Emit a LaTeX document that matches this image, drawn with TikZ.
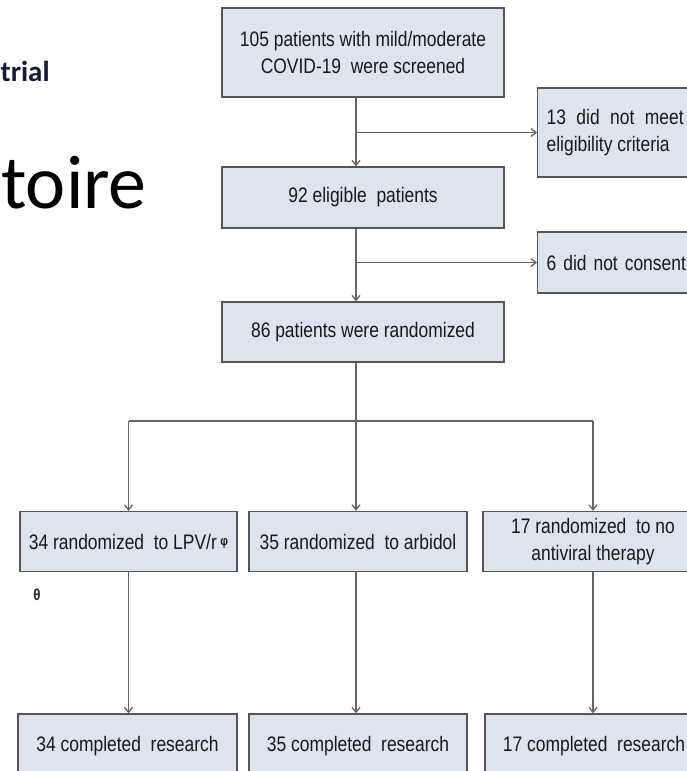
\documentclass[tikz,border=0pt]{standalone}
\usepackage{fontspec}
\usetikzlibrary{arrows.meta}
\newfontfamily\chartfont[FakeStretch=0.83]{Liberation Sans}
\newfontfamily\slidefont{Carlito}
\definecolor{boxfill}{RGB}{220,228,239}
\definecolor{boxline}{RGB}{85,85,85}
\definecolor{linkline}{RGB}{100,100,100}
\definecolor{titlenavy}{RGB}{25,25,60}
\tikzset{
  box/.style={draw=boxline, fill=boxfill, line width=1.3pt, inner sep=0pt,
    align=center, text=black!90, font=\chartfont\fontsize{21}{27}\selectfont},
  link/.style={draw=linkline, line width=1.3pt},
  arr/.style={link, -{Straight Barb[length=5pt,width=8pt]}}
}

\begin{document}
\begin{tikzpicture}[x=1pt,y=-1pt]
\useasboundingbox (0,0) rectangle (687,771);
\clip (0,0) rectangle (687,771);

% bits of the slide behind the chart
\node[anchor=base west, inner sep=0pt, text=titlenavy,
  font=\slidefont\bfseries\fontsize{29}{31}\selectfont] (trial) at (0.5,81) {trial};
\node[anchor=base west, inner sep=0pt,
  font=\slidefont\fontsize{76}{80}\selectfont] (toire) at (1,208) {toire};

\coordinate (trk) at (356,0);
\coordinate (split) at (356,421);

\node[box, minimum width=282pt, minimum height=89pt] (screen) at (363,52.5)
  {105 patients with mild/moderate\\COVID-19\ \ were screened};
\node[box, minimum width=282pt, minimum height=61pt] (eligible) at (363,197.5)
  {92 eligible\ \ patients};
\node[box, minimum width=282pt, minimum height=60pt] (randomized) at (363,332)
  {86 patients were randomized};

\node[box, anchor=west, minimum width=155pt, minimum height=89pt,
  text width=137pt, align=justify] (notmeet) at (537,132.5)
  {13 did not meet\linebreak eligibility criteria};
\node[box, anchor=west, minimum width=155pt, minimum height=61pt,
  text width=137pt, align=left] (noconsent) at (537,262.5)
  {\mbox{6 did not consent}};

\node[box, minimum width=217pt, minimum height=60pt] (lpv) at (128.5,541.5)
  {34 randomized\ \ to LPV/r\,\raisebox{4pt}{\fontsize{13}{13}\selectfont\bfseries φ}};
\node[box, minimum width=218pt, minimum height=60pt] (arbidol) at (358,541.5)
  {35 randomized\ \ to arbidol};
\node[box, minimum width=220pt, minimum height=60pt] (noanti) at (593,541.5)
  {17 randomized\ \ to no\\antiviral therapy};
\node[inner sep=0pt, text=black!85,
  font=\chartfont\bfseries\fontsize{16}{16}\selectfont] (theta) at (37,595) {θ};

\node[box, minimum width=219pt, minimum height=64pt] (lpvdone) at (127.5,746)
  {34 completed\ \ research};
\node[box, minimum width=218pt, minimum height=64pt] (arbdone) at (358,746)
  {35 completed\ \ research};
\node[box, minimum width=218pt, minimum height=64pt] (nonedone) at (594,746)
  {17 completed\ \ research};

% screening
\draw[arr] (screen.south -| trk) -- (eligible.north -| trk);
\draw[arr] (notmeet.west -| trk) -- (notmeet.west);
\draw[arr] (eligible.south -| trk) -- (randomized.north -| trk);
\draw[arr] (noconsent.west -| trk) -- (noconsent.west);

% the three arms
\draw[arr] (randomized.south -| trk) -- (arbidol.north -| trk);
\draw[link] (lpv.north |- split) -- (noanti.north |- split);
\draw[arr] (lpv.north |- split) -- (lpv.north);
\draw[arr] (noanti.north |- split) -- (noanti.north);

\draw[arr] (lpv.south) -- (lpv.south |- lpvdone.north);
\draw[arr] (arbidol.south -| trk) -- (arbdone.north -| trk);
\draw[arr] (noanti.south) -- (noanti.south |- nonedone.north);

\end{tikzpicture}
\end{document}
